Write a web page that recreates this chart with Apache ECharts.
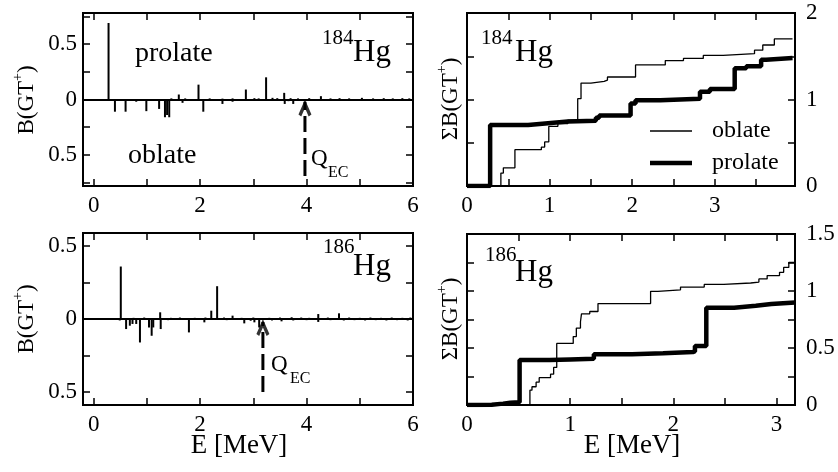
<!DOCTYPE html>
<html><head><meta charset="utf-8">
<script src="https://cdn.jsdelivr.net/npm/echarts@6/dist/echarts.min.js"></script>
<style>html,body{margin:0;padding:0;background:#fff}#c{width:838px;height:472px}</style>
</head><body><div id="c"></div>
<script>
// ---------- data ----------
// 184Hg: B(GT+) strength distributions (prolate up, oblate down)
const sticksProlate184 = [[0.28,0.69],[1.46,0.01],[1.60,0.045],[1.72,0.01],[1.97,0.134],[2.18,0.01],[2.42,0.008],[2.61,0.01],[2.86,0.09],[3.02,0.012],[3.10,0.01],[3.24,0.2],[3.36,0.015],[3.45,0.012],[3.58,0.06],[3.70,0.012],[3.84,0.01],[4.05,0.012],[4.27,0.03],[4.45,0.01],[4.62,0.012],[4.80,0.01],[5.04,0.015],[5.25,0.01],[5.45,0.012],[5.62,0.01],[5.80,0.012],[5.93,0.01]];
const sticksOblate184 = [[0.40,-0.11],[0.60,-0.11],[0.80,-0.02],[0.99,-0.105],[1.23,-0.085],[1.34,-0.16],[1.38,-0.14],[1.42,-0.16],[1.55,-0.01],[1.67,-0.03],[1.82,-0.01],[2.06,-0.11],[2.25,-0.01],[2.42,-0.04],[2.61,-0.02],[2.75,-0.008],[2.95,-0.01],[3.15,-0.01],[3.40,-0.012],[3.59,-0.04],[3.66,-0.015],[3.75,-0.04],[3.88,-0.01],[4.10,-0.01],[4.35,-0.01],[4.55,-0.008],[4.75,-0.01],[4.95,-0.008],[5.15,-0.01],[5.35,-0.008],[5.55,-0.01],[5.72,-0.008],[5.88,-0.01]];
// 186Hg
const sticksProlate186 = [[0.51,0.36],[0.75,0.008],[0.95,0.01],[1.25,0.046],[1.45,0.008],[1.62,0.01],[1.90,0.008],[2.10,0.01],[2.21,0.057],[2.32,0.225],[2.45,0.01],[2.61,0.023],[2.78,0.008],[3.00,0.01],[3.30,0.008],[3.50,0.01],[3.72,0.012],[3.90,0.01],[4.05,0.008],[4.22,0.034],[4.40,0.01],[4.61,0.039],[4.80,0.01],[5.00,0.008],[5.20,0.01],[5.40,0.008],[5.60,0.01],[5.80,0.008],[5.95,0.01]];
const sticksOblate186 = [[0.49,-0.01],[0.61,-0.069],[0.68,-0.046],[0.73,-0.034],[0.80,-0.034],[0.87,-0.161],[1.04,-0.058],[1.09,-0.115],[1.12,-0.058],[1.26,-0.069],[1.40,-0.008],[1.79,-0.092],[2.08,-0.023],[2.50,-0.008],[2.83,-0.03],[2.95,-0.012],[3.02,-0.023],[3.11,-0.058],[3.35,-0.01],[3.53,-0.016],[3.75,-0.01],[4.00,-0.008],[4.22,-0.02],[4.45,-0.008],[4.70,-0.01],[4.90,-0.008],[5.10,-0.01],[5.30,-0.008],[5.50,-0.01],[5.70,-0.008],[5.90,-0.01]];
// Q_EC values and arrow tail (in B units)
const qec184 = 3.97, qecTail184 = -0.69;
const qec186 = 3.18, qecTail186 = -0.5;
// Cumulative sums  [E, sum B(GT+)]  (value holds from E onward)
const sumProlate184 = [[0,0],[0.28,0.705],[0.74,0.725],[0.98,0.745],[1.22,0.755],[1.56,0.79],[1.60,0.815],[1.98,0.955],[2.04,0.99],[2.34,1.01],[2.82,1.09],[2.94,1.12],[3.24,1.36],[3.38,1.385],[3.56,1.46],[3.62,1.48],[3.94,1.48]];
const sumOblate184 = [[0,0],[0.41,0.15],[0.44,0.21],[0.58,0.42],[0.90,0.45],[0.94,0.51],[0.99,0.69],[1.10,0.72],[1.22,0.76],[1.34,1.01],[1.38,1.19],[1.50,1.21],[1.66,1.225],[1.70,1.26],[2.04,1.40],[2.40,1.45],[2.62,1.475],[2.86,1.51],[3.10,1.53],[3.48,1.57],[3.58,1.63],[3.72,1.70],[3.94,1.70]];
const sumProlate186 = [[0,0],[0.10,0.003],[0.24,0.012],[0.35,0.02],[0.42,0.025],[0.51,0.394],[0.80,0.40],[1.00,0.405],[1.23,0.445],[1.60,0.455],[1.90,0.465],[2.19,0.47],[2.21,0.517],[2.32,0.853],[2.59,0.87],[2.80,0.885],[2.95,0.9],[3.18,0.9]];
const sumOblate186 = [[0,0],[0.50,0.005],[0.61,0.13],[0.63,0.16],[0.67,0.20],[0.70,0.24],[0.81,0.27],[0.84,0.33],[0.87,0.54],[1.03,0.60],[1.06,0.675],[1.10,0.73],[1.11,0.80],[1.19,0.82],[1.27,0.89],[1.78,0.997],[1.85,1.01],[2.07,1.034],[2.30,1.058],[2.49,1.07],[2.75,1.078],[2.83,1.106],[2.91,1.135],[3.03,1.164],[3.07,1.207],[3.12,1.25],[3.18,1.25]];
// ticks / labels
const leftXTicks = [0,1,2,3,4,5,6], leftXLabels = [0,2,4,6];
const leftY184Ticks = [-0.75,-0.5,-0.25,0,0.25,0.5,0.75], leftYLabels = [-0.5,0,0.5];
const leftY186Ticks = [-0.5,-0.25,0,0.25,0.5];
const rightX184Ticks = [0.5,1,1.5,2,2.5,3,3.5], rightX186Ticks = [0.5,1,1.5,2,2.5,3], rightXLabels = [0,1,2,3];
const rightY184Ticks = [0.5,1,1.5], rightY184Labels = [0,1,2];
const rightY186Ticks = [0.25,0.5,0.75,1,1.25], rightY186Labels = [0,0.5,1,1.5];

// ---------- chart ----------
const F = 'Liberation Serif';
const chart = echarts.init(document.getElementById('c'), null, {renderer:'canvas'});

function ax(type, grid, min, max, pos, ticks, labels, margin, fmt) {
  return {
    type:'value', gridIndex:grid, min:min, max:max, position:pos,
    axisLine:{show:false, onZero:false}, splitLine:{show:false},
    axisTick:{show:true, inside:true, length:7, customValues:ticks, lineStyle:{color:'#000', width:1.5}},
    axisLabel:{show: !!labels, customValues: labels || [], margin: margin || 8, fontSize:23, fontFamily:F, color:'#000', formatter: fmt}
  };
}
const absFmt = v => String(Math.abs(v));

const grids = [
  {left:83, top:13, width:330, height:173},
  {left:467, top:13, width:328, height:173},
  {left:83, top:233, width:330, height:172},
  {left:467, top:234, width:328, height:171}
].map(g => Object.assign(g, {show:true, borderColor:'#000', borderWidth:2, backgroundColor:'transparent'}));

const xAxes = [
  ax('x',0,-0.2,6,'bottom',leftXTicks,leftXLabels,8),
  ax('x',0,-0.2,6,'top',leftXTicks,null),
  ax('x',1,0,qec184,'bottom',rightX184Ticks,rightXLabels,8),
  ax('x',1,0,qec184,'top',rightX184Ticks,null),
  ax('x',2,-0.2,6,'bottom',leftXTicks,leftXLabels,8),
  ax('x',2,-0.2,6,'top',leftXTicks,null),
  ax('x',3,0,qec186,'bottom',rightX186Ticks,rightXLabels,8),
  ax('x',3,0,qec186,'top',rightX186Ticks,null)
];
const yAxes = [
  ax('y',0,-0.78,0.78,'left',leftY184Ticks,leftYLabels,6,absFmt),
  ax('y',0,-0.78,0.78,'right',leftY184Ticks,null),
  ax('y',1,0,2,'right',rightY184Ticks,rightY184Labels,11),
  ax('y',1,0,2,'left',rightY184Ticks,null),
  ax('y',2,-0.59,0.59,'left',leftY186Ticks,leftYLabels,6,absFmt),
  ax('y',2,-0.59,0.59,'right',leftY186Ticks,null),
  ax('y',3,0,1.5,'right',rightY186Ticks,rightY186Labels,11),
  ax('y',3,0,1.5,'left',rightY186Ticks,null)
];

const chevron = 'path://M7,0 L14,14 L11,16 L7,8 L3,16 L0,14 Z';
function sticks(name, data, xi, yi, zero) {
  const s = {name:name, type:'bar', xAxisIndex:xi, yAxisIndex:yi, data:data, barWidth:2, barGap:'-100%',
    color:'#000', itemStyle:{color:'#000'}, silent:true, animation:false};
  if (zero) s.markLine = {symbol:['none','none'], silent:true, label:{show:false}, animation:false,
    lineStyle:{color:'#000', width:2, type:'solid'}, data:[{yAxis:0}]};
  return s;
}
function qecArrow(q, tail, xi, yi) {
  return [
    {type:'line', xAxisIndex:xi, yAxisIndex:yi, data:[[q,tail],[q,-0.02]], symbol:'none', silent:true, animation:false,
      color:'#000', lineStyle:{color:'#000', width:3, type:[16,6]}},
    {type:'scatter', xAxisIndex:xi, yAxisIndex:yi, data:[[q,0]], symbol:chevron, symbolSize:[13,17], symbolOffset:[0,8.5],
      color:'#000', itemStyle:{color:'#000'}, silent:true, animation:false}
  ];
}
function stepLine(name, data, xi, yi, w) {
  return {name:name, type:'line', step:'end', xAxisIndex:xi, yAxisIndex:yi, data:data, symbol:'none', silent:true, animation:false,
    color:'#000', itemStyle:{color:'#000'}, lineStyle:{color:'#000', width:w}};
}

const series = [
  sticks('p184', sticksProlate184, 0, 0, true),
  sticks('o184', sticksOblate184, 0, 0, false),
  ...qecArrow(qec184, qecTail184, 0, 0),
  stepLine('oblate', sumOblate184, 2, 2, 1.3),
  stepLine('prolate', sumProlate184, 2, 2, 4.5),
  sticks('p186', sticksProlate186, 4, 4, true),
  sticks('o186', sticksOblate186, 4, 4, false),
  ...qecArrow(qec186, qecTail186, 4, 4),
  stepLine('oblate', sumOblate186, 6, 6, 1.3),
  stepLine('prolate', sumProlate186, 6, 6, 4.5)
];

function txt(x, y, s, fs) {
  return {type:'text', x:x, y:y, silent:true, style:{text:s, fontFamily:F, fontSize:fs, fill:'#000', align:'left', verticalAlign:'middle'}};
}
function vtitle(x, y, s) {
  return {type:'text', x:x, y:y, rotation:Math.PI/2, silent:true,
    style:{text:s, fontFamily:F, fontSize:23, fill:'#000', align:'center', verticalAlign:'middle',
      rich:{n:{fontFamily:F, fontSize:23, fill:'#000', lineHeight:26}, s:{fontFamily:F, fontSize:14, fill:'#000', padding:[0,0,18,0]}}}};
}
function ctext(x, y, s, fs) {
  return {type:'text', x:x, y:y, silent:true, style:{text:s, fontFamily:F, fontSize:fs, fill:'#000', align:'center', verticalAlign:'middle'}};
}

const graphic = [
  txt(135, 53.5, 'prolate', 28),
  txt(128, 155.5, 'oblate', 28),
  txt(322, 38, '184', 21), txt(353, 52.5, 'Hg', 31),
  txt(311, 159, 'Q', 23), txt(328, 173, 'EC', 16),
  txt(481, 38, '184', 21), txt(515, 52.5, 'Hg', 31),
  txt(323, 247, '186', 21), txt(353, 266.5, 'Hg', 31),
  txt(271, 365, 'Q', 23), txt(290, 379, 'EC', 16),
  txt(485, 255, '186', 21), txt(515, 272.5, 'Hg', 31),
  vtitle(27, 100, '{n|B(GT}{s|+}{n|)}'),
  vtitle(27, 319, '{n|B(GT}{s|+}{n|)}'),
  vtitle(451, 99, '{n|ΣB(GT}{s|+}{n|)}'),
  vtitle(451, 319, '{n|ΣB(GT}{s|+}{n|)}'),
  ctext(239, 446, 'E [MeV]', 27),
  ctext(632, 446, 'E [MeV]', 27)
];

const legendBase = {show:true, orient:'vertical', left:645, itemWidth:42, icon:'rect', selectedMode:false,
  textStyle:{fontFamily:F, fontSize:24, color:'#000', padding:[0,0,0,15]}};

chart.setOption({
  animation:false,
  backgroundColor:'#fff',
  grid:grids, xAxis:xAxes, yAxis:yAxes, series:series,
  legend:[
    Object.assign({}, legendBase, {top:114, itemHeight:1.3, data:['oblate']}),
    Object.assign({}, legendBase, {top:146, itemHeight:4.5, data:['prolate']})
  ],
  graphic:graphic
});
</script></body></html>
